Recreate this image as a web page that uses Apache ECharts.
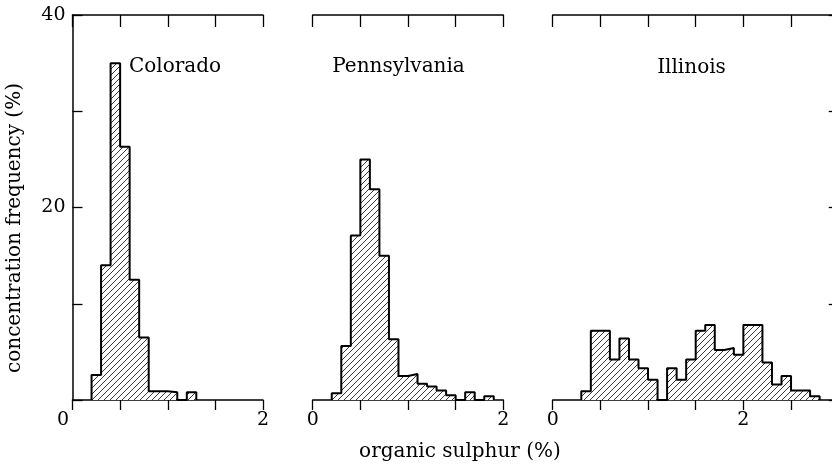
<!DOCTYPE html>
<html>
<head>
<meta charset="utf-8">
<script src="https://cdn.jsdelivr.net/npm/echarts@6/dist/echarts.min.js"></script>
<style>
  html, body { margin: 0; padding: 0; background: #fff; }
  #main { width: 832px; height: 466px; }
</style>
</head>
<body>
<div id="main"></div>
<script>
// bin lower edges (organic sulphur %) and heights (concentration frequency %)
const coloradoEdges = [0.2, 0.3, 0.4, 0.5, 0.6, 0.7, 0.8, 0.9, 1.0, 1.1, 1.2, 1.3];
const coloradoFreq = [2.6, 14, 35, 26.3, 12.5, 6.5, 0.9, 0.9, 0.8, 0, 0.8];

const pennEdges = [0.2, 0.3, 0.4, 0.5, 0.6, 0.7, 0.8, 0.9, 1.0, 1.1, 1.2, 1.3, 1.4, 1.5, 1.6, 1.7, 1.8, 1.9];
const pennFreq = [0.7, 5.6, 17.1, 25, 21.9, 15, 6.3, 2.5, 2.7, 1.7, 1.4, 1.0, 0.5, 0, 0.8, 0, 0.4];

const illinoisEdges = [0.3, 0.4, 0.5, 0.6, 0.7, 0.8, 0.9, 1.0, 1.1, 1.2, 1.3, 1.4, 1.5, 1.6, 1.7, 1.8, 1.9, 2.0, 2.1, 2.2, 2.3, 2.4, 2.5, 2.6, 2.7, 2.8];
const illinoisFreq = [0.9, 7.2, 7.2, 4.2, 6.4, 4.2, 3.3, 2.1, 0, 3.3, 2.1, 4.2, 7.2, 7.8, 5.2, 5.4, 4.7, 7.8, 7.8, 3.9, 1.6, 2.5, 1.0, 1.0, 0.4];

const panelNames = ['Colorado', 'Pennsylvania', 'Illinois'];
const xTickLabels = [0, 2];
const yTickLabels = [20, 40];

const serif = '"DejaVu Serif", "Liberation Serif", serif';

// hatch pattern
const hatch = document.createElement('canvas');
hatch.width = 6;
hatch.height = 6;
const hc = hatch.getContext('2d');
hc.fillStyle = '#fff';
hc.fillRect(0, 0, 6, 6);
hc.strokeStyle = '#222';
hc.lineWidth = 0.9;
hc.beginPath();
hc.moveTo(-1, 7); hc.lineTo(7, -1);
hc.moveTo(-1, 1); hc.lineTo(1, -1);
hc.moveTo(5, 7); hc.lineTo(7, 5);
hc.stroke();

function stepData(edges, freq) {
  const pts = [[edges[0], 0]];
  freq.forEach((h, i) => pts.push([edges[i], h]));
  pts.push([edges[freq.length], 0]);
  return pts;
}

const chart = echarts.init(document.getElementById('main'), null, { renderer: 'canvas' });

const axisLine = { show: true, onZero: false, lineStyle: { color: '#000', width: 1.5 } };
const tickStyle = { color: '#000', width: 1.3 };

const grids = [
  { left: 72.5, top: 15, width: 190.5, height: 385 },
  { left: 312.7, top: 15, width: 190.6, height: 385 },
  { left: 552.7, top: 15, width: 286, height: 385 }
].map(g => Object.assign(g, { containLabel: false, outerBoundsMode: 'none' }));

const xMax = [2, 2, 3];
const xAxis = [];
grids.forEach((g, i) => {
  xAxis.push({
    type: 'value', gridIndex: i, min: 0, max: xMax[i], interval: 0.5, position: 'bottom',
    axisLine: axisLine,
    axisTick: { show: true, inside: false, length: 10, lineStyle: tickStyle },
    splitLine: { show: false },
    axisLabel: {
      show: true, margin: 11, color: '#000', fontFamily: serif, fontSize: 19,
      showMinLabel: true, showMaxLabel: true,
      formatter: v => {
        if (xTickLabels.indexOf(v) < 0) return '';
        if (i === 0 && v === 0) return '{l|0}';
        return String(v);
      },
      rich: { l: { padding: [0, 19, 0, 0], color: '#000', fontFamily: serif, fontSize: 19 } }
    }
  });
  xAxis.push({
    type: 'value', gridIndex: i, min: 0, max: xMax[i], interval: 0.5, position: 'top',
    axisLine: axisLine,
    axisTick: { show: true, inside: true, length: 12, lineStyle: tickStyle },
    splitLine: { show: false },
    axisLabel: { show: false }
  });
});

const yAxis = [
  {
    type: 'value', gridIndex: 0, min: 0, max: 40, interval: 10, position: 'left',
    axisLine: axisLine,
    axisTick: { show: true, inside: true, length: 10, lineStyle: tickStyle },
    splitLine: { show: false },
    axisLabel: {
      margin: 7, color: '#000', fontFamily: serif, fontSize: 19,
      showMaxLabel: true, padding: [8, 0, 0, 0],
      formatter: v => (yTickLabels.indexOf(v) >= 0 ? String(v) : '')
    }
  },
  { type: 'value', gridIndex: 1, min: 0, max: 40, interval: 10, show: false },
  {
    type: 'value', gridIndex: 2, min: 0, max: 40, interval: 10, position: 'right',
    axisLine: axisLine,
    axisTick: { show: true, inside: true, length: 10, lineStyle: tickStyle },
    splitLine: { show: false },
    axisLabel: { show: false }
  }
];

const panels = [
  [coloradoEdges, coloradoFreq],
  [pennEdges, pennFreq],
  [illinoisEdges, illinoisFreq]
];

const series = panels.map((p, i) => ({
  type: 'line',
  name: panelNames[i],
  xAxisIndex: i * 2,
  yAxisIndex: i,
  step: 'end',
  symbol: 'none',
  showSymbol: false,
  lineStyle: { color: '#000', width: 2 },
  areaStyle: { color: { image: hatch, repeat: 'repeat' }, opacity: 1 },
  data: stepData(p[0], p[1]),
  z: 1
}));

const textStyle = { fill: '#000', fontFamily: serif, fontSize: 20 };

const option = {
  backgroundColor: '#fff',
  animation: false,
  grid: grids,
  xAxis: xAxis,
  yAxis: yAxis,
  series: series,
  graphic: [
    { type: 'text', x: 129, y: 67, style: Object.assign({ text: panelNames[0], align: 'left', verticalAlign: 'middle' }, textStyle) },
    { type: 'text', x: 398.5, y: 67, style: Object.assign({ text: panelNames[1], align: 'center', verticalAlign: 'middle' }, textStyle) },
    { type: 'text', x: 691.5, y: 68, style: Object.assign({ text: panelNames[2], align: 'center', verticalAlign: 'middle' }, textStyle) },
    { type: 'text', x: 460, y: 452, style: Object.assign({ text: 'organic sulphur (%)', align: 'center', verticalAlign: 'middle' }, textStyle) },
    { type: 'text', x: 15, y: 228, rotation: Math.PI / 2, style: Object.assign({ text: 'concentration frequency (%)', align: 'center', verticalAlign: 'middle' }, textStyle) }
  ]
};

chart.setOption(option);
</script>
</body>
</html>
